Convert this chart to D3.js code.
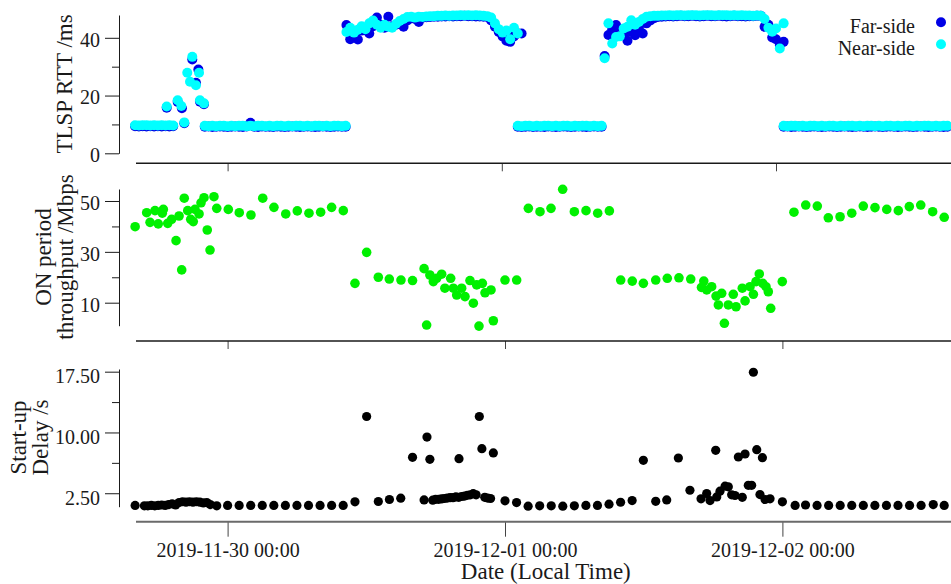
<!DOCTYPE html>
<html>
<head>
<meta charset="utf-8">
<script src="https://cdn.jsdelivr.net/npm/d3@7"></script>
<style>
  body { margin: 0; background: #fff; }
  svg { display: block; }
</style>
</head>
<body>
<svg id="chart" width="951" height="584"></svg>
<script>
// Times are hours from 2019-11-30 00:00 (local time)
const xTickLabels = ["2019-11-30 00:00", "2019-12-01 00:00", "2019-12-02 00:00"];

// --- TLSP RTT (ms), sampled every 20 min, one array per run ---
const rttStepMin = 20;
const rttSegStart = [-8.1, -2.0, 10.4, 25.4, 33.0, 48.67];

const nearA = [9.7, 9.6, 9.7, 9.7, 9.6, 9.7, 9.6, 9.7, 9.6, 9.7, 9.6];
const nearB = [9.5, 9.4, 9.5, 9.4, 9.5, 9.5, 9.4, 9.5, 9.4, 9.5,
               9.5, 9.4, 9.5, 9.4, 9.5, 9.5, 9.4, 9.5, 9.4, 9.5,
               9.5, 9.4, 9.5, 9.4, 9.5, 9.5, 9.4, 9.5, 9.4, 9.5,
               9.5, 9.4, 9.5, 9.4, 9.5, 9.5, 9.4, 9.5];
const nearC = [42.0, 43.5, 41.8, 42.8, 44.0, 43.0, 45.0, 46.0, 44.5, 43.5, 44.5, 43.8, 43.5, 44.8, 45.8, 46.5, 47.2,
               47.3, 47.0, 47.3, 47.2, 47.4, 47.5, 47.5, 47.6, 47.6, 47.7, 47.6, 47.7, 47.7, 47.8, 47.7, 47.8, 47.7, 47.8, 47.7, 47.6, 47.5,
               47.0, 45.0, 43.0, 41.8, 42.5, 39.5, 43.5, 41.5];
const nearD = [9.5, 9.4, 9.5, 9.5, 9.4, 9.5, 9.4, 9.5, 9.5, 9.4, 9.5, 9.4,
               9.5, 9.5, 9.4, 9.5, 9.4, 9.5, 9.5, 9.4, 9.5, 9.4, 9.5];
const nearE = [32.9, 45.0, 38.0, 40.3, 40.5, 43.2, 43.8, 46.1, 44.5, 45.5, 46.5, 47.3, 47.5, 47.6, 47.6,
               47.7, 47.7, 47.8, 47.7, 47.8, 47.8, 47.7, 47.8, 47.8, 47.8, 47.7, 47.8, 47.8,
               47.8, 47.7, 47.8, 47.8, 47.8, 47.7, 47.8, 47.7, 47.8, 47.7, 47.7, 47.6, 47.7,
               47.6, 46.5, 43.5, 42.1, 43.2, 36.3, 45.0];
const nearF = [9.5, 9.4, 9.5, 9.5, 9.4, 9.5, 9.4, 9.5, 9.5, 9.4,
               9.5, 9.4, 9.5, 9.5, 9.4, 9.5, 9.4, 9.5, 9.5, 9.4,
               9.5, 9.4, 9.5, 9.5, 9.4, 9.5, 9.4, 9.5, 9.5, 9.4,
               9.5, 9.4, 9.5, 9.5, 9.4, 9.5, 9.4, 9.5, 9.5, 9.4,
               9.5, 9.4, 9.5, 9.5];

const farA = [9.4, 9.3, 9.4, 9.3, 9.4, 9.3, 9.4, 9.3, 9.4, 9.3, 9.4];
const farB = [9.2, 9.3, 9.1, 9.2, 9.3, 9.2, 9.1, 9.2, 9.3, 9.2,
              9.1, 9.3, 10.6, 9.2, 9.1, 9.3, 9.2, 9.2, 9.1, 9.3,
              9.2, 9.1, 9.2, 9.3, 9.2, 9.1, 9.2, 9.3, 9.2, 9.1,
              9.2, 9.3, 9.2, 9.1, 9.2, 9.3, 9.2, 9.2];
const farC = [44.4, 39.5, 40.5, 39.4, 42.5, 43.5, 41.5, 44.0, 47.0, 44.5, 43.5, 47.3, 44.0, 44.5, 45.0, 43.8, 46.0,
              46.8, 46.5, 45.5, 47.0, 47.1, 47.2, 47.3, 47.3, 47.4, 47.4, 47.5, 47.4, 47.5, 47.5, 47.6, 47.5, 47.5, 47.4, 47.4, 47.3, 47.2,
              46.0, 43.8, 42.0, 40.5, 39.0, 38.6, 40.5, 41.5, 41.5];
const farD = [9.2, 9.1, 9.2, 9.3, 9.1, 9.2, 9.2, 9.1, 9.3, 9.2, 9.1, 9.2,
              9.3, 9.2, 9.1, 9.2, 9.3, 9.2, 9.1, 9.2, 9.3, 9.2, 9.2];
const farE = [33.7, 41.0, 43.0, 44.4, 42.5, 41.5, 39.0, 42.0, 40.9, 43.5, 41.5, 45.0, 46.0, 46.8, 47.2,
              47.3, 47.4, 47.5, 47.4, 47.5, 47.6, 47.5, 47.5, 47.6, 47.5, 47.4, 47.5, 47.6,
              47.5, 47.5, 47.6, 47.5, 47.4, 47.5, 47.6, 47.5, 47.5, 47.4, 47.5, 47.5, 47.6,
              47.6, 43.8, 44.5, 40.1, 39.5, 37.5, 38.6];
const farF = [9.2, 9.3, 9.1, 9.2, 9.3, 9.2, 9.1, 9.2, 9.3, 9.2,
              9.1, 9.2, 9.3, 9.2, 9.1, 9.2, 9.3, 9.2, 9.1, 9.2,
              9.3, 9.2, 9.1, 9.2, 9.3, 9.2, 9.1, 9.2, 9.3, 9.2,
              9.1, 9.2, 9.3, 9.2, 9.1, 9.2, 9.3, 9.2, 9.1, 9.2,
              9.3, 9.2, 9.1, 9.2];

// irregular samples of the evening spike on 11-29
const nearSpike = [[-5.33, 16.2], [-4.37, 18.4], [-4.05, 16.4], [-3.79, 10.7], [-3.53, 27.9], [-3.29, 24.8],
                   [-3.09, 33.4], [-2.77, 23.6], [-2.5, 27.9], [-2.42, 18.4], [-2.07, 17.3]];
const farSpike = [[-5.33, 15.8], [-4.37, 17.8], [-4.0, 15.6], [-3.79, 10.4], [-3.09, 32.5], [-2.77, 24.4],
                  [-2.56, 29.0], [-2.42, 17.9], [-2.07, 17.0]];

// --- ON period throughput (Mbps) ---
const throughput = [
  [-8.0, 39.9], [-7.0, 45.4], [-6.71, 41.6], [-6.28, 46.2], [-6.0, 41.0], [-5.56, 46.7], [-5.65, 45.2],
  [-5.18, 41.2], [-4.84, 42.8], [-4.46, 34.4], [-4.2, 44.1], [-3.97, 22.9], [-3.75, 51.1], [-3.45, 46.2],
  [-3.19, 42.8], [-2.97, 41.9], [-2.82, 46.7], [-2.47, 44.9], [-2.3, 49.3], [-2.04, 51.3], [-1.76, 38.6],
  [-1.52, 30.7], [-1.18, 51.7], [-0.94, 47.1], [0.06, 46.7], [1.01, 45.4], [2.02, 44.5], [3.04, 51.1],
  [4.01, 47.5], [5.03, 44.9], [6.03, 46.1], [7.04, 45.2], [8.05, 45.6], [9.0, 47.5], [10.01, 46.2],
  [11.02, 17.6], [12.03, 29.8], [13.04, 20.0], [13.99, 19.3], [15.0, 18.9], [16.0, 18.7], [17.0, 23.4],
  [17.22, 1.2], [17.5, 20.9], [17.8, 18.3], [18.09, 19.6], [18.52, 21.2], [18.8, 15.7], [19.3, 19.6],
  [19.53, 15.7], [19.82, 13.0], [20.25, 15.7], [20.54, 12.4], [20.97, 18.7], [21.26, 9.8], [21.55, 17.0],
  [21.75, 0.8], [22.04, 17.6], [22.27, 13.9], [22.79, 15.0], [22.99, 2.9], [24.0, 18.9], [25.01, 18.9],
  [26.02, 47.1], [27.03, 45.8], [27.98, 47.1], [28.99, 54.6], [30.0, 45.8], [31.01, 46.2], [32.02, 45.2],
  [33.03, 46.1], [34.01, 18.9], [35.01, 18.5], [35.97, 17.6], [37.04, 18.9], [38.04, 19.6], [39.05, 19.8],
  [40.07, 19.3], [41.0, 16.0], [41.2, 18.5], [41.45, 15.0], [41.88, 16.3], [42.26, 12.6], [42.46, 9.1],
  [42.75, 13.7], [42.98, 1.9], [43.32, 9.1], [43.75, 13.3], [43.99, 8.4], [44.53, 15.7], [44.77, 10.7],
  [45.2, 16.3], [45.49, 13.3], [45.72, 18.3], [46.0, 21.3], [46.3, 17.6], [46.58, 16.3], [46.78, 14.3],
  [46.99, 7.8], [47.99, 18.3], [49.0, 45.6], [50.02, 48.4], [51.02, 48.0], [51.97, 43.4], [52.99, 43.8],
  [54.0, 45.2], [55.0, 48.0], [56.01, 47.4], [57.03, 46.7], [58.03, 46.2], [58.98, 47.8], [59.97, 48.4],
  [61.0, 45.8], [62.0, 43.6]
];

// --- Start-up delay (s) ---
const startupDelay = [
  [-8.0, 1.0], [-7.2, 0.95], [-6.9, 0.95], [-6.6, 1.0], [-6.3, 0.95], [-6.0, 1.0], [-5.7, 1.05], [-5.4, 1.0],
  [-5.1, 1.1], [-4.8, 1.2], [-4.5, 1.05], [-4.2, 1.35], [-3.9, 1.45], [-3.6, 1.4], [-3.3, 1.45], [-3.0, 1.4],
  [-2.7, 1.45], [-2.4, 1.4], [-2.1, 1.3], [-1.8, 1.35], [-1.5, 1.1], [-0.94, 0.95], [0, 1.0], [1, 1.0],
  [2, 1.0], [3, 1.0], [4, 1.0], [5, 1.0], [6, 1.0], [7, 1.0], [8, 1.0], [9, 1.0], [10, 1.0], [11.02, 1.44],
  [12.03, 11.97], [13.04, 1.48], [14.0, 1.73], [14.98, 1.89], [16.0, 6.93], [17.0, 1.68], [17.25, 9.43],
  [17.5, 6.68], [17.75, 1.65], [18.0, 1.75], [18.25, 1.75], [18.5, 1.8], [18.75, 1.85], [19.0, 1.9],
  [19.25, 1.95], [19.5, 1.95], [19.75, 2.05], [20.0, 2.0], [20.02, 6.77], [20.25, 2.1], [20.5, 2.15],
  [20.75, 2.25], [21.0, 2.3], [21.25, 2.45], [21.5, 2.3], [21.78, 11.97], [22.0, 8.0], [22.25, 2.0],
  [22.5, 1.9], [22.75, 1.85], [22.99, 7.47], [24, 1.56], [25, 1.35], [26, 0.9], [27, 0.95], [28, 0.95],
  [29, 0.9], [30, 0.95], [31, 1.0], [32, 1.0], [33, 1.15], [34, 1.39], [35, 1.6], [35.97, 6.56],
  [37.04, 1.5], [37.99, 1.68], [39.0, 6.85], [40.0, 2.87], [40.96, 1.81], [41.45, 2.46], [41.74, 1.6],
  [42.23, 7.79], [42.32, 2.05], [42.6, 2.75], [43.04, 3.37], [43.32, 3.29], [43.61, 2.3], [43.9, 2.22],
  [44.19, 6.97], [44.53, 2.0], [44.77, 7.34], [45.05, 3.48], [45.34, 3.48], [45.49, 17.43], [45.78, 7.87],
  [46.06, 2.34], [46.27, 6.89], [46.5, 1.73], [46.93, 1.81], [48.0, 1.44], [49.1, 1.0], [50, 1.05],
  [51, 1.0], [52, 1.0], [53, 1.0], [54, 1.0], [55, 1.0], [56, 1.0], [57, 1.0], [58, 1.0], [59, 1.0],
  [60, 1.0], [61.05, 1.1], [62, 1.0]
];

const legendNames = ["Far-side", "Near-side"];
const legendColors = ["#0000e6", "#00ffff"];

// ---------------------------------------------------------------
const FONT = "'Liberation Serif', 'Times New Roman', serif";
const INK = "#1a1a1a";
const svg = d3.select("#chart");

const parseTick = d3.timeParse("%Y-%m-%d %H:%M");
const tickDates = xTickLabels.map(parseTick);
const base = tickDates[0];
const at = h => new Date(base.getTime() + h * 3600e3);

// build time/value points from the 20-min runs
function runs(segs) {
  const out = [];
  segs.forEach((vals, k) => {
    vals.forEach((v, i) => out.push({ t: at(rttSegStart[k] + i * rttStepMin / 60), v }));
  });
  return out;
}
const farPts = runs([farA, farB, farC, farD, farE, farF]).concat(farSpike.map(d => ({ t: at(d[0]), v: d[1] })));
const nearPts = runs([nearA, nearB, nearC, nearD, nearE, nearF]).concat(nearSpike.map(d => ({ t: at(d[0]), v: d[1] })));
const tputPts = throughput.map(d => ({ t: at(d[0]), v: d[1] }));
const delayPts = startupDelay.map(d => ({ t: at(d[0]), v: d[1] }));

// x scales (the top panel is slightly narrower than the two lower ones)
const xTop = d3.scaleTime().domain([tickDates[0], tickDates[2]]).range([227.6, 776]);
const xLow = d3.scaleTime().domain([tickDates[0], tickDates[2]]).range([227.6, 782.4]);

const panels = [
  { x: xTop, y: d3.scaleLinear().domain([0, 47.9]).range([153.3, 15]),
    major: [0, 20, 40], minor: [10, 30], fmt: d3.format("d"), dy: "0.42em",
    axisY: 163.3, tick: 8 },
  { x: xLow, y: d3.scaleLinear().domain([0.95, 54.72]).range([325.7, 189]),
    major: [10, 30, 50], minor: [20, 40], fmt: d3.format("d"), dy: "0.42em",
    axisY: 341, tick: 8 },
  { x: xLow, y: d3.scaleLinear().domain([0.84, 17.83]).range([506.7, 369]),
    major: [2.5, 10, 17.5], minor: [6.25, 13.75], fmt: d3.format(".2f"), dy: "0.56em",
    axisY: 521.7, tick: 15 }
];

function styleAxis(g) {
  g.attr("font-family", FONT).attr("font-size", 20);
  g.selectAll("text").attr("fill", INK);
  g.selectAll("line").attr("stroke", INK);
  g.selectAll(".domain").attr("stroke", INK);
}

panels.forEach((p, i) => {
  // y axis: major + minor ticks
  svg.append("g")
    .attr("transform", "translate(119,0)")
    .call(d3.axisLeft(p.y).tickValues(p.major).tickFormat(p.fmt).tickSize(14).tickSizeOuter(0).tickPadding(5))
    .call(styleAxis)
    .call(g => g.selectAll("text").attr("dy", p.dy));
  svg.append("g")
    .attr("transform", "translate(119,0)")
    .call(d3.axisLeft(p.y).tickValues(p.minor).tickFormat("").tickSize(7))
    .call(styleAxis)
    .call(g => g.select(".domain").remove());

  // x axis
  const last = i === panels.length - 1;
  svg.append("g")
    .attr("transform", `translate(0,${p.axisY})`)
    .call(d3.axisBottom(p.x).tickValues(tickDates)
      .tickFormat((d, k) => last ? xTickLabels[k] : "")
      .tickSize(p.tick).tickPadding(6.4))
    .call(styleAxis)
    .call(g => g.select(".domain").remove())
    .call(g => g.selectAll(".tick line").attr("stroke", "#444"));
  svg.append("line")
    .attr("x1", 136).attr("x2", 951)
    .attr("y1", p.axisY).attr("y2", p.axisY)
    .attr("stroke", last ? "#6a6a6a" : INK)
    .attr("stroke-width", last ? 2 : 1.4);
});

// points
function dots(pts, p, color, r) {
  svg.append("g").selectAll("circle")
    .data(pts)
    .join("circle")
    .attr("cx", d => p.x(d.t))
    .attr("cy", d => p.y(d.v))
    .attr("r", r)
    .attr("fill", color);
}
dots(farPts, panels[0], legendColors[0], 5);
dots(nearPts, panels[0], legendColors[1], 5);
dots(tputPts, panels[1], "#00f000", 4.8);
dots(delayPts, panels[2], "#000", 4.6);

// legend
legendNames.forEach((name, i) => {
  svg.append("text")
    .attr("x", 915).attr("y", 32.8 + i * 22.5)
    .attr("text-anchor", "end")
    .attr("font-family", FONT).attr("font-size", 20)
    .attr("fill", INK)
    .text(name);
  svg.append("circle")
    .attr("cx", 941).attr("cy", 22.3 + i * 22)
    .attr("r", 5)
    .attr("fill", legendColors[i]);
});

// axis titles
function yTitle(lines, cy, xs) {
  lines.forEach((s, k) => {
    svg.append("text")
      .attr("transform", `translate(${xs[k]},${cy}) rotate(-90)`)
      .attr("text-anchor", "middle")
      .attr("font-family", FONT).attr("font-size", 23)
      .attr("fill", INK)
      .text(s);
  });
}
yTitle(["TLSP RTT /ms"], 84, [72]);
yTitle(["ON period", "throughput /Mbps"], 257, [50.5, 72.5]);
yTitle(["Start-up", "Delay /s"], 437.5, [25.5, 48]);

svg.append("text")
  .attr("x", 545.8).attr("y", 579)
  .attr("text-anchor", "middle")
  .attr("font-family", FONT).attr("font-size", 23)
  .attr("fill", INK)
  .text("Date (Local Time)");
</script>
</body>
</html>
